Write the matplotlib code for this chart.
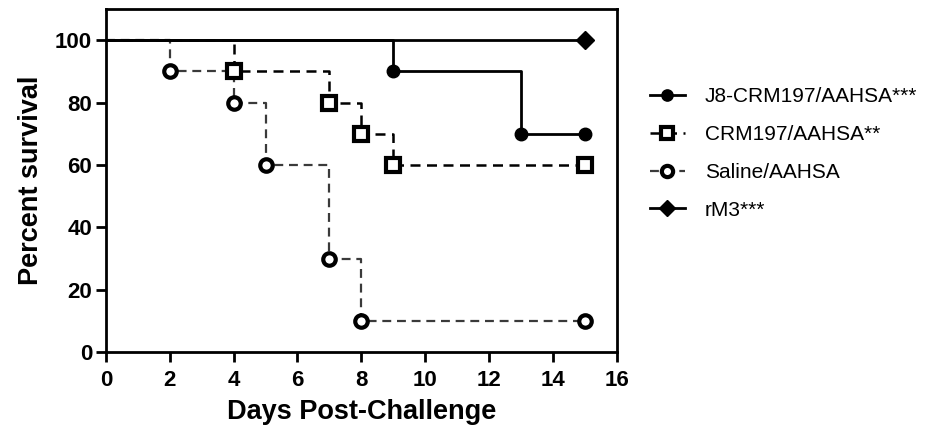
import numpy as np
import matplotlib
matplotlib.use("Agg")
import matplotlib.pyplot as plt

plt.rcParams['font.family'] = ['Liberation Sans', 'DejaVu Sans']

# Kaplan-Meier style survival data (days, percent survival)
j8_days = [0, 9, 13, 15]
j8_surv = [100, 90, 70, 70]

crm_days = [0, 4, 7, 8, 9, 15]
crm_surv = [100, 90, 80, 70, 60, 60]

saline_days = [0, 2, 4, 5, 7, 8, 15]
saline_surv = [100, 90, 80, 60, 30, 10, 10]

rm3_days = [0, 15]
rm3_surv = [100, 100]

labels = ["J8-CRM197/AAHSA***", "CRM197/AAHSA**", "Saline/AAHSA", "rM3***"]

fig = plt.figure(figsize=(9.32, 4.32), dpi=100)
ax = fig.add_axes([0.1137, 0.185, 0.548, 0.794])

dash = (0, (4, 2.6))

# saline first so the solid lines sit on top
ax.step(saline_days, saline_surv, where='post', color='#3a3a3a', lw=1.6,
        linestyle=dash, marker='o', markersize=9, markerfacecolor='white',
        markeredgecolor='black', markeredgewidth=3,
        markevery=list(range(1, len(saline_days))), label=labels[2], zorder=3)
ax.step(crm_days, crm_surv, where='post', color='black', lw=1.8,
        linestyle=dash, marker='s', markersize=10, markerfacecolor='white',
        markeredgecolor='black', markeredgewidth=3,
        markevery=list(range(1, len(crm_days))), label=labels[1], zorder=4)
ax.step(j8_days, j8_surv, where='post', color='black', lw=2,
        marker='o', markersize=9, markerfacecolor='black',
        markevery=list(range(1, len(j8_days))), label=labels[0], zorder=5)
ax.step(rm3_days, rm3_surv, where='post', color='black', lw=2,
        marker='D', markersize=9, markerfacecolor='black',
        markevery=[1], label=labels[3], zorder=6)

ax.set_xlim(0, 16)
ax.set_ylim(0, 110)
ax.set_xticks(np.arange(0, 17, 2))
ax.set_yticks(np.arange(0, 101, 20))

for s in ax.spines.values():
    s.set_linewidth(2)
ax.tick_params(direction='out', length=7, width=2, labelsize=16)
ax.tick_params(axis='x', pad=6)
ax.tick_params(axis='y', pad=3)
for lab in ax.get_xticklabels() + ax.get_yticklabels():
    lab.set_fontweight('bold')

ax.set_xlabel("Days Post-Challenge", fontsize=19.5, fontweight='bold', labelpad=6)
ax.set_ylabel("Percent survival", fontsize=19.5, fontweight='bold', labelpad=8)

handles, labs = ax.get_legend_handles_labels()
order = [labs.index(l) for l in labels]
fig.legend([handles[i] for i in order], [labs[i] for i in order],
           loc='upper left', bbox_to_anchor=(0.677, 0.841), frameon=False,
           fontsize=15, handlelength=1.7, handletextpad=0.95,
           labelspacing=0.9, markerscale=0.9)

fig.savefig("out.png", dpi=100)
